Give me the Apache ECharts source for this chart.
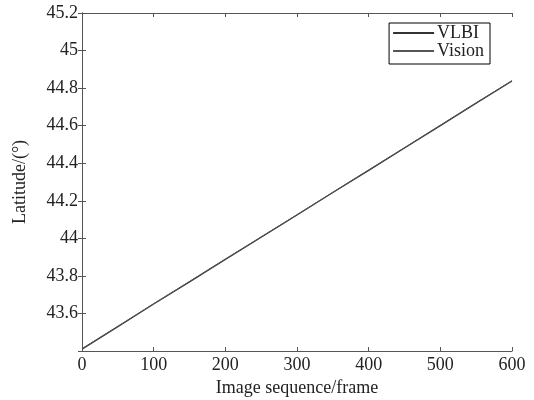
<!DOCTYPE html>
<html>
<head>
<meta charset="utf-8">
<script src="https://cdn.jsdelivr.net/npm/echarts@6/dist/echarts.min.js"></script>
<style>
  html, body { margin: 0; padding: 0; background: #fff; }
  #chart { width: 534px; height: 400px; }
</style>
</head>
<body>
<div id="chart"></div>
<script>
/* ── Data ───────────────────────────────────────────────────────── */
const frames = [0, 50, 100, 150, 200, 250, 300, 350, 400, 450, 500, 550, 600];
const vlbi   = [43.410, 43.530, 43.650, 43.768, 43.888, 44.006, 44.124, 44.244, 44.362, 44.481, 44.600, 44.720, 44.838];
const vision = [43.412, 43.531, 43.652, 43.770, 43.889, 44.008, 44.126, 44.245, 44.364, 44.483, 44.602, 44.721, 44.840];
const seriesNames = ['VLBI', 'Vision'];

/* ── Helpers ────────────────────────────────────────────────────── */
const FONT = '"Liberation Serif", "DejaVu Serif", serif';
const INK = '#222';

function pairs(xs, ys) { return xs.map((x, i) => [x, ys[i]]); }

function mirrorAxis(extra) {
    return Object.assign({
        axisLine: { show: true, lineStyle: { color: '#555', width: 1 } },
        axisTick: { show: true, inside: true, length: 4, lineStyle: { color: '#555' } },
        axisLabel: { show: false },
        splitLine: { show: false }
    }, extra);
}

/* ── Chart ──────────────────────────────────────────────────────── */
const chart = echarts.init(document.getElementById('chart'));

chart.setOption({
    backgroundColor: '#fff',
    animation: false,
    grid: { left: 82, right: 22, top: 13, bottom: 49, outerBoundsMode: 'none', containLabel: false },
    legend: {
        data: seriesNames,
        orient: 'vertical',
        right: 44,
        top: 23,
        itemWidth: 41,
        itemHeight: 2,
        itemGap: 0,
        padding: [1, 6, 4, 4],
        borderColor: '#000',
        borderWidth: 1,
        borderRadius: 0,
        icon: 'rect',
        textStyle: { fontFamily: FONT, fontSize: 18, lineHeight: 18, color: INK, padding: [0, 0, 0, -2] }
    },
    xAxis: [
        {
            type: 'value', min: 0, max: 600, interval: 100,
            name: 'Image sequence/frame',
            nameLocation: 'middle', nameGap: 27,
            nameTextStyle: { fontFamily: FONT, fontSize: 18, color: INK },
            axisLine: { show: true, lineStyle: { color: '#555', width: 1 } },
            axisTick: { show: true, inside: true, length: 4, lineStyle: { color: '#555' } },
            axisLabel: { fontFamily: FONT, fontSize: 18, color: INK, margin: 5 },
            splitLine: { show: false }
        },
        mirrorAxis({ type: 'value', position: 'top', min: 0, max: 600, interval: 100 })
    ],
    yAxis: [
        {
            type: 'value', min: 43.4, max: 45.2, interval: 0.2,
            name: 'Latitude/(°)',
            nameLocation: 'middle', nameGap: 53,
            nameTextStyle: { fontFamily: FONT, fontSize: 18, color: INK, padding: [0, 0, 0, 0] },
            axisLine: { show: true, lineStyle: { color: '#555', width: 1 } },
            axisTick: { show: true, inside: true, length: 4, lineStyle: { color: '#555' } },
            axisLabel: {
                fontFamily: FONT, fontSize: 18, color: INK, margin: 4,
                formatter: v => (Math.abs(v - 43.4) < 1e-6 ? '' : String(+v.toFixed(1)))
            },
            splitLine: { show: false }
        },
        mirrorAxis({ type: 'value', position: 'right', min: 43.4, max: 45.2, interval: 0.2 })
    ],
    series: [
        {
            name: seriesNames[0], type: 'line', data: pairs(frames, vlbi),
            showSymbol: false, symbol: 'none',
            lineStyle: { color: '#333', width: 1.3 },
            itemStyle: { color: '#333' }
        },
        {
            name: seriesNames[1], type: 'line', data: pairs(frames, vision),
            showSymbol: false, symbol: 'none',
            lineStyle: { color: '#555', width: 1 },
            itemStyle: { color: '#555' }
        }
    ]
});
</script>
</body>
</html>
